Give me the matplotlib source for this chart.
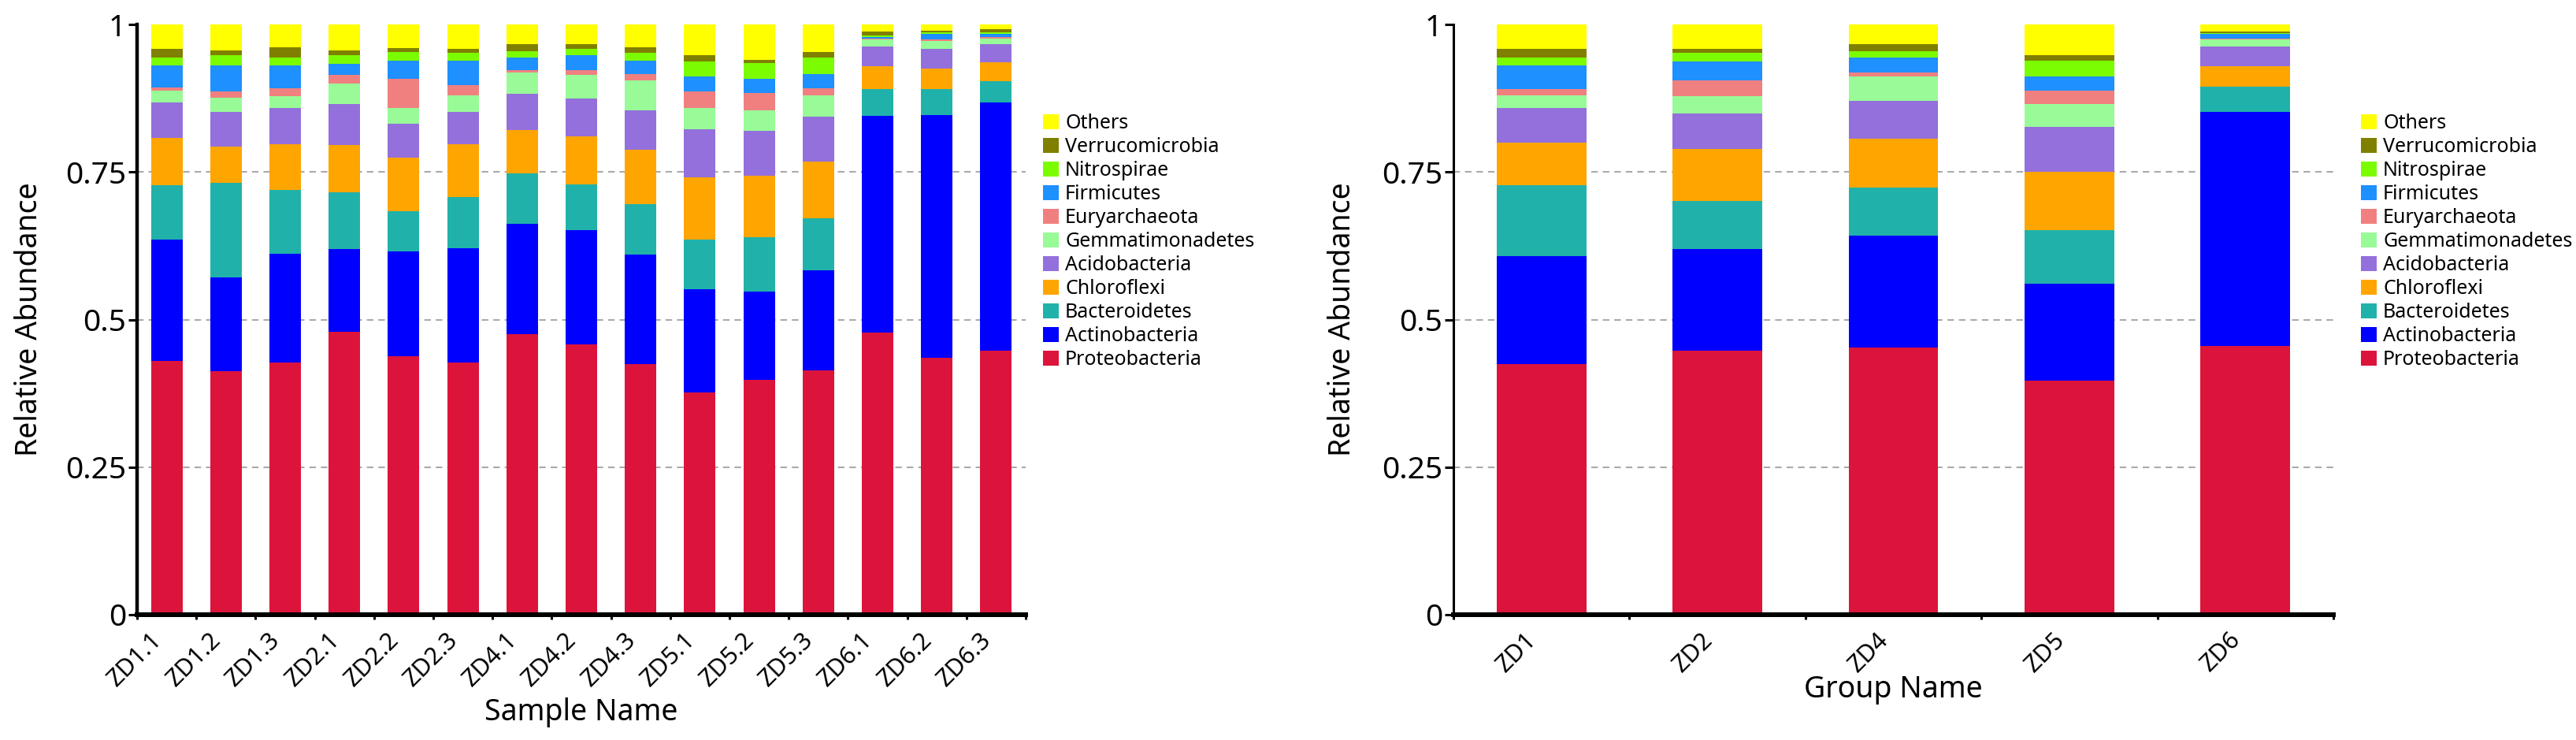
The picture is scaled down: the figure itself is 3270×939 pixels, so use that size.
# Relative abundance of top phyla, per sample and per group

import numpy as np
import matplotlib.pyplot as plt

plt.rcParams['font.family'] = ['Noto Sans', 'DejaVu Sans']

# Categories
samples = ['ZD1.1', 'ZD1.2', 'ZD1.3', 'ZD2.1', 'ZD2.2', 'ZD2.3', 'ZD4.1', 'ZD4.2',
           'ZD4.3', 'ZD5.1', 'ZD5.2', 'ZD5.3', 'ZD6.1', 'ZD6.2', 'ZD6.3']
groups = ['ZD1', 'ZD2', 'ZD4', 'ZD5', 'ZD6']

# Phyla, bottom of the stack first
phyla = ['Proteobacteria', 'Actinobacteria', 'Bacteroidetes', 'Chloroflexi',
         'Acidobacteria', 'Gemmatimonadetes', 'Euryarchaeota', 'Firmicutes',
         'Nitrospirae', 'Verrucomicrobia', 'Others']
colors = ['#DC143C', '#0000FF', '#20B2AA', '#FFA500', '#9370DB', '#98FB98',
          '#F08080', '#1E90FF', '#7CFC00', '#808000', '#FFFF00']

# Sample level abundances
proteo_s = [.430, .412, .427, .479, .438, .427, .475, .458, .424, .376, .398, .414, .478, .435, .447]
actino_s = [.206, .160, .185, .140, .178, .194, .187, .194, .186, .175, .149, .170, .367, .412, .421]
bactero_s = [.092, .159, .108, .097, .067, .087, .086, .077, .085, .085, .093, .087, .045, .043, .036]
chloro_s = [.080, .062, .077, .080, .091, .089, .073, .081, .093, .105, .103, .097, .039, .035, .032]
acido_s = [.060, .059, .061, .069, .058, .055, .062, .065, .067, .082, .077, .076, .033, .034, .030]
gemma_s = [.020, .024, .020, .035, .026, .028, .036, .040, .050, .036, .035, .036, .012, .013, .010]
eury_s = [.005, .011, .014, .015, .050, .017, .003, .007, .011, .027, .029, .012, .002, .002, .002]
firm_s = [.037, .043, .038, .018, .031, .042, .022, .026, .023, .026, .024, .024, .003, .010, .006]
nitro_s = [.014, .018, .014, .015, .014, .013, .011, .011, .013, .025, .026, .028, .002, .003, .003]
verruco_s = [.015, .008, .017, .008, .007, .007, .011, .007, .009, .011, .006, .009, .007, .002, .005]
others_s = [.041, .044, .039, .044, .040, .041, .034, .034, .039, .052, .060, .047, .012, .012, .008]

# Group level abundances
proteo_g = [.424, .447, .452, .397, .455]
actino_g = [.183, .172, .190, .164, .397]
bactero_g = [.120, .082, .081, .090, .043]
chloro_g = [.073, .088, .084, .100, .034]
acido_g = [.059, .060, .063, .076, .033]
gemma_g = [.021, .029, .042, .038, .012]
eury_g = [.010, .027, .007, .023, .002]
firm_g = [.040, .032, .025, .024, .008]
nitro_g = [.014, .015, .011, .026, .001]
verruco_g = [.015, .007, .011, .010, .003]
others_g = [.041, .041, .034, .052, .012]

sample_series = [proteo_s, actino_s, bactero_s, chloro_s, acido_s, gemma_s,
                 eury_s, firm_s, nitro_s, verruco_s, others_s]
group_series = [proteo_g, actino_g, bactero_g, chloro_g, acido_g, gemma_g,
                eury_g, firm_g, nitro_g, verruco_g, others_g]

W, H = 3270, 939
fig = plt.figure(figsize=(W / 100, H / 100), dpi=100)
ax1 = fig.add_axes([174 / W, 1 - 780 / H, 1128 / W, 749 / H])
ax2 = fig.add_axes([1845 / W, 1 - 780 / H, 1117 / W, 749 / H])


def draw_panel(ax, names, series, width, left_lw, xlabel, xlabel_y, ylabel_x, legend_x):
    n = len(names)
    x = np.arange(n) + 0.5
    bottom = np.zeros(n)
    bars = []
    for vals, col, lab in zip(series, colors, phyla):
        b = ax.bar(x, vals, width, bottom=bottom, color=col, label=lab,
                   linewidth=0, zorder=2)
        bars.append(b)
        bottom += np.array(vals)

    for g in [0.25, 0.5, 0.75]:
        ax.axhline(g, color='#aaaaaa', lw=1.5, ls=(0, (4, 3)), zorder=0)

    ax.set_xlim(0, n)
    ax.set_ylim(0, 1)
    ax.set_yticks([0, 0.25, 0.5, 0.75, 1])
    ax.set_yticklabels(['0', '0.25', '0.5', '0.75', '1'])
    ax.set_xticks(np.arange(n + 1))
    ax.set_xticklabels([])
    ax.set_xticks(x, minor=True)
    ax.set_xticklabels(names, minor=True, rotation=45, ha='right', fontsize=22)

    ax.spines['top'].set_visible(False)
    ax.spines['right'].set_visible(False)
    ax.spines['left'].set_linewidth(left_lw)
    ax.spines['bottom'].set_linewidth(4.3)
    ax.tick_params(axis='y', length=8, width=2.2, pad=2, labelsize=28)
    ax.tick_params(axis='x', which='major', length=4, width=2.2)
    ax.tick_params(axis='x', which='minor', length=0, pad=12)

    ax.set_ylabel('Relative Abundance', fontsize=27)
    ax.yaxis.set_label_coords(ylabel_x, 0.5)
    ax.set_xlabel(xlabel, fontsize=27)
    ax.xaxis.set_label_coords(0.5, xlabel_y)

    ax.legend(bars[::-1], phyla[::-1], loc='upper left',
              bbox_to_anchor=(legend_x / W, 1 - 144 / H), bbox_transform=fig.transFigure,
              frameon=False, fontsize=18, handlelength=0.8, handleheight=0.8,
              handletextpad=0.32, labelspacing=0.2, borderpad=0, borderaxespad=0)


draw_panel(ax1, samples, sample_series, 0.53, 3.2, 'Sample Name', -0.140, -0.105, 1324)
draw_panel(ax2, groups, group_series, 0.51, 2.2, 'Group Name', -0.101, -0.109, 2997)

plt.savefig('out.png', dpi=100)
